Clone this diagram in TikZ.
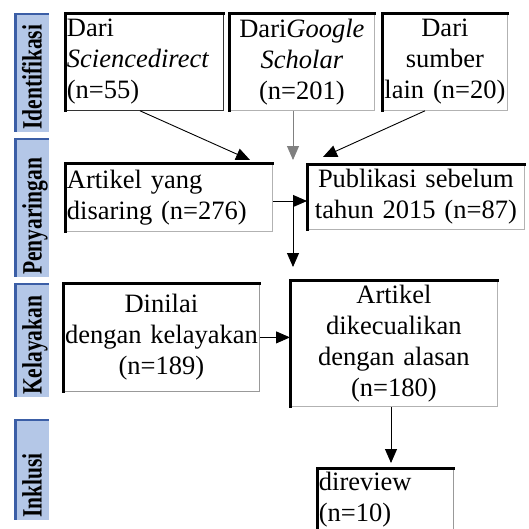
\documentclass[tikz,border=0pt]{standalone}
\usepackage{fontspec}
\setmainfont{Liberation Serif}
\usetikzlibrary{arrows.meta}
\definecolor{barblue}{HTML}{B4C7E7}
\definecolor{bardark}{HTML}{3B5EA6}
\newcommand\bxfont{\fontsize{26.5}{31}\selectfont}
\newcommand\lbfont{\fontsize{21.5}{26}\selectfont\bfseries}
\begin{document}
\begin{tikzpicture}[x=1pt,y=-1pt,
  box/.style={draw=gray!60, line width=0.8pt, fill=white, anchor=north west,
    inner sep=1.5pt, font=\bxfont},
  lbox/.style={box, align=left},
  cbox/.style={box, align=center},
  thickedge/.style={line width=3pt, line cap=rect},
  arr/.style={line width=0.9pt, -{Triangle[length=14pt,width=12pt]}},
  lab/.style={rotate=90, yscale=1.3, anchor=base west, inner sep=0pt, font=\lbfont}
]
\useasboundingbox (0,0) rectangle (529,528);
\clip (0,0) rectangle (529,528);

% side labels
\foreach \i/\t/\yt/\yb in {1/Identifikasi/13/132, 2/Penyaringan/138/277, 3/Kelayakan/283/397, 4/Inklusi/419/520}{
  \fill[barblue] (14,\yt) rectangle (49,\yb);
  \fill[bardark] (14,\yt) rectangle (17,\yb);
  \fill[bardark] (14,\yt) rectangle (49,\yt+2);
  \node[lab] (lab\i) at (41.5,\yb-2) {\t};
}

% boxes
\node[lbox, text width=155pt, minimum height=97pt, draw=black!80] (b1) at (65,13)
  {Dari\\\textit{Sciencedirect}\\(n=55)};
\node[cbox, text width=142pt, minimum height=97pt] (b2) at (229,13)
  {Dari\textit{Google}\\\textit{Scholar}\\(n=201)};
\node[cbox, text width=122pt, minimum height=97pt] (b3) at (382,13)
  {Dari\\sumber\\lain (n=20)};
\node[lbox, text width=204pt, minimum height=68pt] (b4) at (65,163)
  {Artikel yang\\disaring (n=276)};
\node[cbox, text width=214pt, minimum height=65pt] (b5) at (307,164)
  {Publikasi sebelum\\tahun 2015 (n=87)};
\node[cbox, text width=193pt, minimum height=108pt, draw=gray!80] (b6) at (63,283)
  {Dinilai\\dengan kelayakan\\(n=189)};
\node[cbox, text width=204pt, minimum height=126pt] (b7) at (290,280)
  {Artikel\\dikecualikan\\dengan alasan\\(n=180)};
\node[lbox, text width=133pt, minimum height=62pt, draw=gray!80] (b8) at (317,468)
  {direview\\(n=10)};

\foreach \n in {b1,b2,b3,b4,b5,b6,b7,b8}
  \draw[thickedge] (\n.south west) -- (\n.north west) -- (\n.north east);

% connectors
\coordinate (m1) at (250,160);
\coordinate (m2) at (293,160);
\coordinate (m3) at (323,157);
\coordinate (s1) at (140,110);
\coordinate (s3) at (425,110);
\coordinate (j1) at (293,201);
\coordinate (j2) at (293,267);
\coordinate (j3) at (391,463);

\draw[arr] (b1.south -| s1) -- (m1);
\draw[arr, draw=gray] (b2.south -| m2) -- (m2);
\draw[arr] (b3.south -| s3) -- (m3);
\draw[arr] (b4.east |- j1) -- (b5.west |- j1);
\draw[arr] (j1) -- (j2);
\draw[arr] (b6.east) -- (b6.east -| b7.west);
\draw[arr] (b7.south -| j3) -- (j3);
\end{tikzpicture}
\end{document}
